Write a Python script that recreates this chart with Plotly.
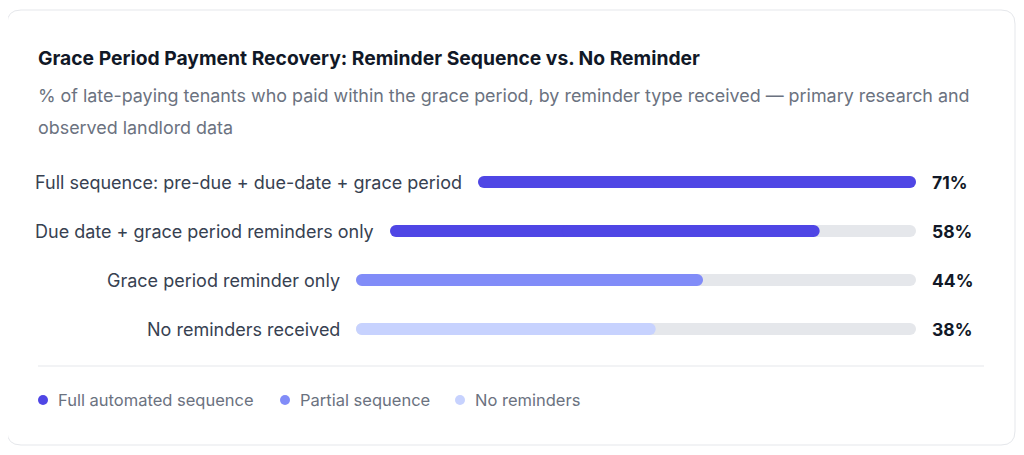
import plotly.graph_objects as go

title = "Grace Period Payment Recovery: Reminder Sequence vs. No Reminder"
subtitle_lines = [
    "% of late-paying tenants who paid within the grace period, by reminder type received \u2014 primary research and",
    "observed landlord data",
]
categories = [
    "Full sequence: pre-due + due-date + grace period",
    "Due date + grace period reminders only",
    "Grace period reminder only",
    "No reminders received",
]
values = [71, 58, 44, 38]
groups = ["full", "full", "partial", "none"]
legend_names = ["Full automated sequence", "Partial sequence", "No reminders"]
legend_keys = ["full", "partial", "none"]

colors = {"full": "#4F46E5", "partial": "#818CF8", "none": "#C7D2FE"}
track_color = "#E5E7EB"

# the page body has an 8px margin, so the figure starts at (8, 8)
OFF = 8
W, H = 1024 - OFF, 455 - OFF
FONT = "Inter, Roboto, sans-serif"

def px(x):
    return (x - OFF) / W

def py(y):
    return 1 - (y - OFF) / H

# layout of the rows (pixels in the window)
bar_left = [478, 390, 356, 356]
bar_right = 916
row_y = [182, 231, 280, 329]
bar_h = 12
vmax = max(values)


def pill(fig, val, color, xa, ya, hover=None):
    # two overlapping halves, each rounded at its outer end
    common = dict(y=[0], orientation="h", width=1, xaxis=xa, yaxis=ya, showlegend=False)
    fig.add_trace(go.Bar(x=[-val * 0.6], base=[val * 0.6],
                         marker=dict(color=color, cornerradius=bar_h / 2, line_width=0),
                         hoverinfo="skip", **common))
    fig.add_trace(go.Bar(x=[val * 0.6], base=[val * 0.4],
                         marker=dict(color=color, cornerradius=bar_h / 2, line_width=0),
                         hovertemplate=hover, hoverinfo=None if hover else "skip", **common))


fig = go.Figure()
layout_axes = {}
annotations = []
for i, (cat, val, grp) in enumerate(zip(categories, values, groups)):
    n = i + 1
    xa = "x" if n == 1 else f"x{n}"
    ya = "y" if n == 1 else f"y{n}"
    r = bar_h / 2
    layout_axes["xaxis" if n == 1 else f"xaxis{n}"] = dict(
        domain=[px(bar_left[i]), px(bar_right)], range=[0, vmax],
        visible=False, fixedrange=True, anchor=ya)
    layout_axes["yaxis" if n == 1 else f"yaxis{n}"] = dict(
        domain=[py(row_y[i] + r), py(row_y[i] - r)], range=[-0.5, 0.5],
        visible=False, fixedrange=True, anchor=xa)
    pill(fig, vmax, track_color, xa, ya)
    pill(fig, val, colors[grp], xa, ya, hover=f"{cat}: {val}%<extra></extra>")
    annotations.append(dict(x=px(bar_left[i] - 14), y=py(row_y[i]), xref="paper", yref="paper",
                            text=cat, showarrow=False, xanchor="right", yanchor="middle",
                            font=dict(family=FONT, size=18, color="#374151")))
    annotations.append(dict(x=px(930), y=py(row_y[i]), xref="paper", yref="paper",
                            text=f"<b>{val}%</b>", showarrow=False, xanchor="left",
                            yanchor="middle",
                            font=dict(family=FONT, size=17.5, color="#111827")))

# title and subtitle
annotations.append(dict(x=px(36), y=py(58), xref="paper", yref="paper",
                        text=f"<b>{title}</b>", showarrow=False, xanchor="left",
                        yanchor="middle", font=dict(family=FONT, size=19.3, color="#111827")))
for j, line in enumerate(subtitle_lines):
    annotations.append(dict(x=px(36), y=py(95 + 32 * j), xref="paper", yref="paper",
                            text=line, showarrow=False, xanchor="left", yanchor="middle",
                            font=dict(family=FONT, size=17.9, color="#6B7280")))

# card outline and divider
shapes = [
    dict(type="path", xref="paper", yref="paper",
         path=("M {a},{b} L {c},{b} Q {e},{b} {e},{f} L {e},{g} Q {e},{h} {c},{h} "
               "L {a},{h} Q {i},{h} {i},{g} L {i},{f} Q {i},{b} {a},{b} Z").format(
             a=px(21), c=px(1001), e=px(1015), i=px(7),
             b=py(10), f=py(24), g=py(431), h=py(445)),
         line=dict(color="#E5E7EB", width=1), fillcolor="rgba(0,0,0,0)", layer="below"),
    dict(type="line", xref="paper", yref="paper", x0=px(38), x1=px(984),
         y0=py(366), y1=py(366), line=dict(color="#E5E7EB", width=1)),
]

# legend
legend_x = [43, 285, 460]
for name, key, lx in zip(legend_names, legend_keys, legend_x):
    shapes.append(dict(type="circle", xref="paper", yref="paper",
                       x0=px(lx - 5), x1=px(lx + 5), y0=py(405), y1=py(395),
                       fillcolor=colors[key], line_width=0))
    annotations.append(dict(x=px(lx + 13), y=py(400), xref="paper", yref="paper",
                            text=name, showarrow=False, xanchor="left", yanchor="middle",
                            font=dict(family=FONT, size=16.5, color="#6B7280")))

fig.update_layout(
    width=W, height=H,
    margin=dict(l=0, r=0, t=0, b=0),
    paper_bgcolor="white", plot_bgcolor="rgba(0,0,0,0)",
    barmode="overlay",
    annotations=annotations, shapes=shapes,
    showlegend=False,
    **layout_axes,
)

fig.write_html("out.html", config={"displayModeBar": False})
